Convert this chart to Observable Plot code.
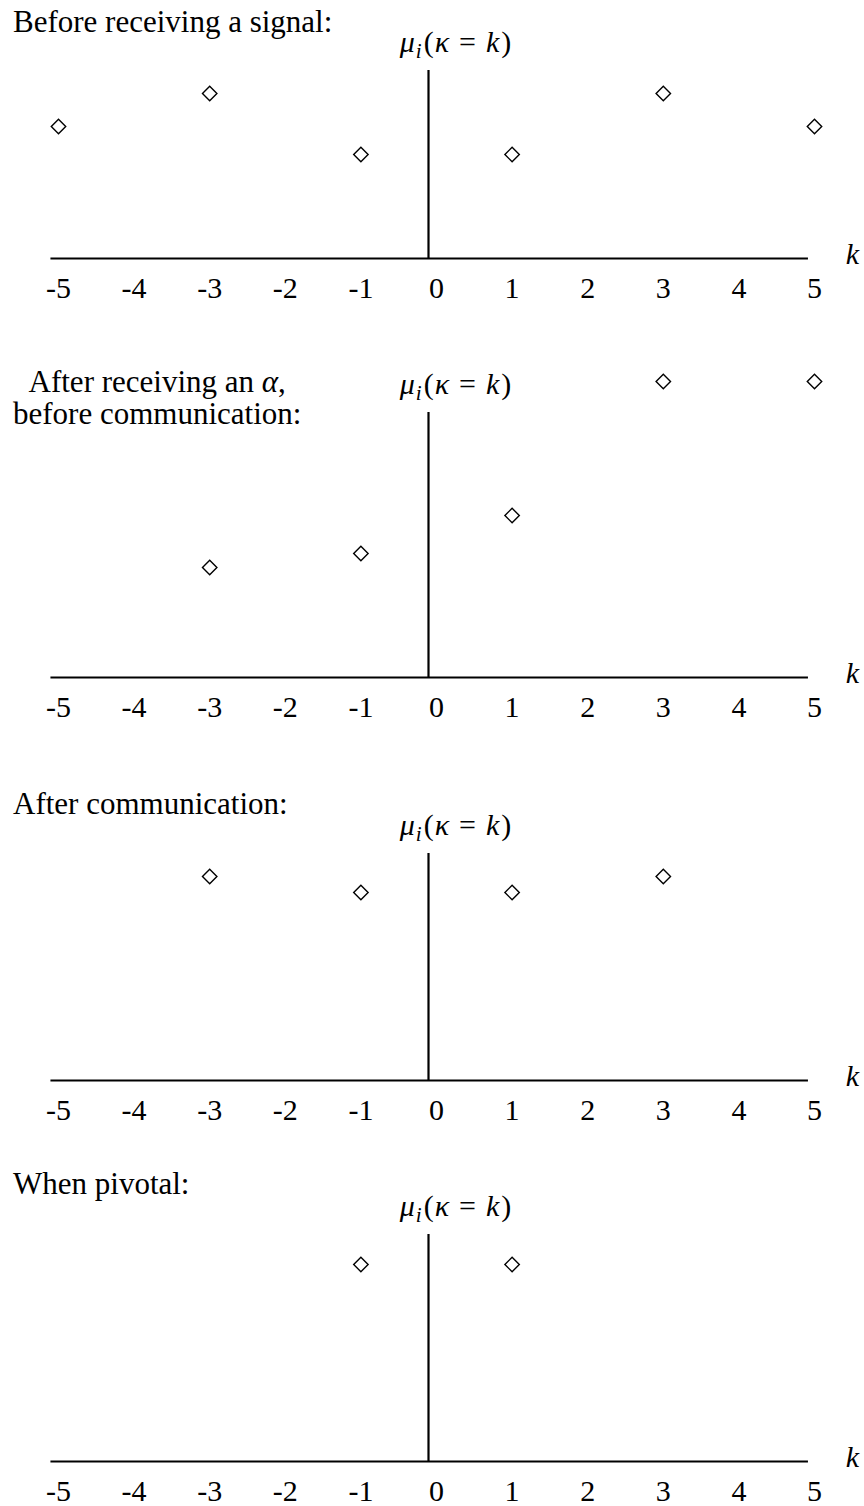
<!DOCTYPE html>
<html>
<head>
<meta charset="utf-8">
<script src="https://cdn.jsdelivr.net/npm/d3@7"></script>
<script src="https://cdn.jsdelivr.net/npm/@observablehq/plot@0.6"></script>
<style>
html, body { margin: 0; padding: 0; background: #fff; }
body { width: 864px; height: 1506px; overflow: hidden; font-family: "Liberation Serif", serif; color: #000; }
.panel { position: relative; width: 864px; }
.panel svg { display: block; }
.title { position: absolute; left: 13px; font-size: 31px; line-height: 32px; white-space: nowrap; text-align: center; }
</style>
</head>
<body>
<div id="chart"></div>
<script>
// ---- data ----
const tickValues = [-5, -4, -3, -2, -1, 0, 1, 2, 3, 4, 5];
const MU = "μi(κ = k)";
const panelTitles = [
  "Before receiving a signal:",
  "After receiving an <i>α</i>,<br>before communication:",
  "After communication:",
  "When pivotal:"
];
// beliefs mu_i(kappa = k) for each panel (arbitrary units; panelTop = height of the vertical axis)
const k1 = [-5, -3, -1, 1, 3, 5];
const mu1 = [1.32, 1.65, 1.04, 1.04, 1.65, 1.32];
const k2 = [-3, -1, 1, 3, 5];
const mu2 = [1.10, 1.24, 1.62, 2.96, 2.96];
const k3 = [-3, -1, 1, 3];
const mu3 = [2.04, 1.88, 1.88, 2.04];
const k4 = [-1, 1];
const mu4 = [1.97, 1.97];
const panelTop = [1.88, 2.65, 2.27, 2.27];

// ---- layout ----
const layout = [
  {h: 360, mt: 70, mb: 102, titleTop: 6},
  {h: 430, mt: 52, mb: 113, titleTop: 6},
  {h: 380, mt: 63, mb: 90, titleTop: -2},
  {h: 336, mt: 64, mb: 45, titleTop: -2}
];

const series = [[k1, mu1], [k2, mu2], [k3, mu3], [k4, mu4]];
const chart = document.getElementById("chart");

function mathify(svg) {
  d3.select(svg).selectAll("text").filter(function () { return this.textContent === MU; }).each(function () {
    const t = d3.select(this);
    t.text("");
    t.append("tspan").attr("font-style", "italic").text("μ");
    t.append("tspan").attr("font-style", "italic").attr("font-size", "0.7em").attr("dy", "6px").attr("dx", "1px").text("i");
    t.append("tspan").attr("dy", "-6px").attr("dx", "2px").text("(");
    t.append("tspan").attr("dx", "1px").attr("font-style", "italic").text("κ");
    t.append("tspan").attr("dx", "10px").text("=");
    t.append("tspan").attr("dx", "10px").attr("font-style", "italic").text("k");
    t.append("tspan").attr("dx", "2px").text(")");
  });
}

series.forEach(([ks, mus], i) => {
  const L = layout[i];
  const top = panelTop[i];
  const data = ks.map((k, j) => ({k, mu: mus[j]}));
  const wrap = document.createElement("div");
  wrap.className = "panel";
  wrap.style.height = L.h + "px";
  const svg = Plot.plot({
    width: 864,
    height: L.h,
    marginLeft: 58,
    marginRight: 50,
    marginTop: L.mt,
    marginBottom: L.mb,
    style: {fontFamily: "'Liberation Serif', serif", fontSize: "30px", background: "white", color: "black", overflow: "visible"},
    x: {domain: [-5, 5], ticks: tickValues, tickSize: 0, tickPadding: 18, tickFormat: d => String(d), label: null},
    y: {domain: [0, top], axis: null},
    marks: [
      Plot.ruleY([0], {x1: -5.1, x2: 4.92, stroke: "black", strokeWidth: 2.2}),
      Plot.ruleX([0], {y1: 0, y2: top, dx: -8, stroke: "black", strokeWidth: 2.2}),
      Plot.dot(data, {x: "k", y: "mu", symbol: "diamond2", r: 6.5, stroke: "black", strokeWidth: 1.4, fill: "white"}),
      Plot.text([MU], {x: 0, y: top, text: d => d, dx: 19, dy: -28, fontSize: 30}),
      Plot.text(["k"], {x: 5, y: 0, text: d => d, dx: 38, dy: -4, fontSize: 30, fontStyle: "italic"})
    ]
  });
  mathify(svg);
  wrap.appendChild(svg);
  const title = document.createElement("div");
  title.className = "title";
  title.style.top = L.titleTop + "px";
  title.innerHTML = panelTitles[i];
  wrap.appendChild(title);
  chart.appendChild(wrap);
});
</script>
</body>
</html>
